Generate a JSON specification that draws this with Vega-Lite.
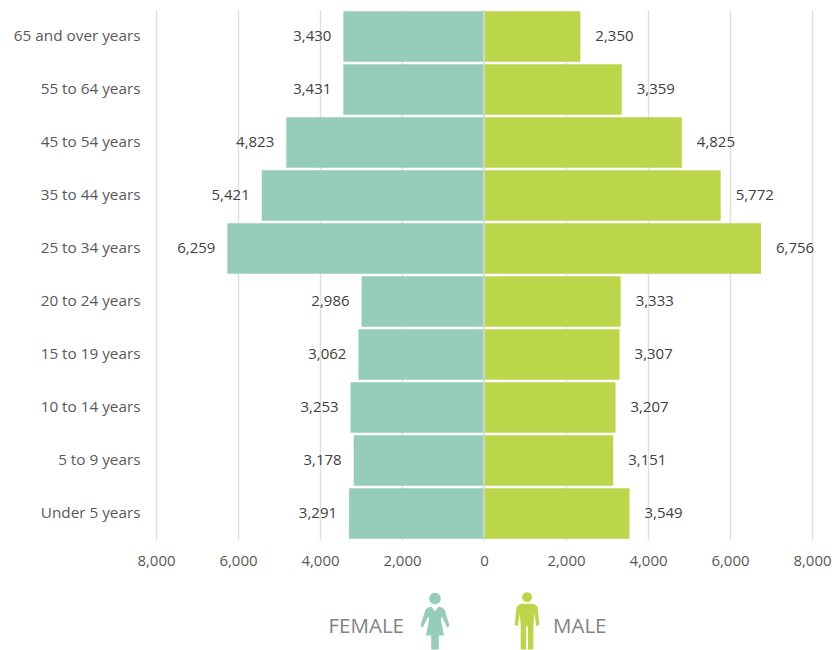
{
"$schema":"https://vega.github.io/schema/vega-lite/v6.json",
"width":656,"height":530,"autosize":"none",
"padding":{"left":156,"top":10,"right":28,"bottom":110},
"background":"white",
"config":{"view":{"stroke":null},"font":"Open Sans"},
"data":{"values":[
{"age":"65 and over years","sex":"FEMALE","value":-3430},{"age":"65 and over years","sex":"MALE","value":2350},
{"age":"55 to 64 years","sex":"FEMALE","value":-3431},{"age":"55 to 64 years","sex":"MALE","value":3359},
{"age":"45 to 54 years","sex":"FEMALE","value":-4823},{"age":"45 to 54 years","sex":"MALE","value":4825},
{"age":"35 to 44 years","sex":"FEMALE","value":-5421},{"age":"35 to 44 years","sex":"MALE","value":5772},
{"age":"25 to 34 years","sex":"FEMALE","value":-6259},{"age":"25 to 34 years","sex":"MALE","value":6756},
{"age":"20 to 24 years","sex":"FEMALE","value":-2986},{"age":"20 to 24 years","sex":"MALE","value":3333},
{"age":"15 to 19 years","sex":"FEMALE","value":-3062},{"age":"15 to 19 years","sex":"MALE","value":3307},
{"age":"10 to 14 years","sex":"FEMALE","value":-3253},{"age":"10 to 14 years","sex":"MALE","value":3207},
{"age":"5 to 9 years","sex":"FEMALE","value":-3178},{"age":"5 to 9 years","sex":"MALE","value":3151},
{"age":"Under 5 years","sex":"FEMALE","value":-3291},{"age":"Under 5 years","sex":"MALE","value":3549}
]},
"encoding":{
"y":{"field":"age","type":"nominal","title":null,
"sort":["65 and over years","55 to 64 years","45 to 54 years","35 to 44 years","25 to 34 years","20 to 24 years","15 to 19 years","10 to 14 years","5 to 9 years","Under 5 years"],
"scale":{"paddingInner":0.05,"paddingOuter":0.025},
"axis":{"domain":false,"ticks":false,"grid":false,"labelPadding":16,"labelOffset":-1,"labelFontSize":15.3,"labelColor":"#58595b","labelFont":"Open Sans"}}
},
"layer":[
{"mark":{"type":"bar"},
"encoding":{
"x":{"field":"value","type":"quantitative","title":null,
"scale":{"domain":[-8000,8000],"nice":false},
"axis":{"values":[-8000,-6000,-4000,-2000,0,2000,4000,6000,8000],"labelExpr":"format(abs(datum.value),',')","labelFlush":false,"domain":false,"ticks":false,"grid":true,"gridColor":"#e0e0e0","gridWidth":1.5,"labelPadding":13,"labelFontSize":15,"labelColor":"#58595b","labelFont":"Open Sans"}},
"color":{"field":"sex","type":"nominal","legend":null,"scale":{"domain":["FEMALE","MALE"],"range":["#96cdb8","#bcd64b"]}}
}},
{"data":{"values":[{"value":0}]},"mark":{"type":"rule","color":"#d9d9d9","strokeWidth":1.5},
"encoding":{"x":{"field":"value","type":"quantitative"},"y":null}},
{"transform":[{"filter":"datum.sex==='FEMALE'"},{"calculate":"format(abs(datum.value),',')","as":"label"}],
"mark":{"type":"text","align":"right","baseline":"middle","dx":-12,"dy":-1,"fontSize":15,"color":"#414042"},
"encoding":{"x":{"field":"value","type":"quantitative"},"text":{"field":"label"}}},
{"transform":[{"filter":"datum.sex==='MALE'"},{"calculate":"format(abs(datum.value),',')","as":"label"}],
"mark":{"type":"text","align":"left","baseline":"middle","dx":15,"dy":-1,"fontSize":15,"color":"#414042"},
"encoding":{"x":{"field":"value","type":"quantitative"},"text":{"field":"label"}}},
{"data":{"values":[{"sex":"FEMALE"}]},"mark":{"type":"text","align":"right","baseline":"middle","yOffset":113,"fontSize":20.5,"color":"#808285"},
"encoding":{"x":{"datum":-1951},"y":{"datum":"Under 5 years"},"text":{"field":"sex"}}},
{"data":{"values":[{"sex":"MALE"}]},"mark":{"type":"text","align":"left","baseline":"middle","yOffset":113,"fontSize":20.5,"color":"#808285"},
"encoding":{"x":{"datum":1683},"y":{"datum":"Under 5 years"},"text":{"field":"sex"}}},
{"data":{"values":[{"sex":"FEMALE"}]},"mark":{"type":"point","filled":true,"opacity":1,"strokeWidth":0,"yOffset":107,"size":3364,"color":"#96cdb8",
"shape":"M-0.2 -0.76A0.2 0.2 0 1 1 0.2 -0.76A0.2 0.2 0 1 1 -0.2 -0.76Z M0 -0.32L0.13 -0.48L0.25 -0.44L0.33 -0.38L0.5 0.18L0.42 0.25L0.24 -0.14L0.2 -0.05L0.31 0.52L0.13 0.52L0.13 1L-0.13 1L-0.13 0.52L-0.31 0.52L-0.2 -0.05L-0.24 -0.14L-0.42 0.25L-0.5 0.18L-0.33 -0.38L-0.25 -0.44L-0.13 -0.48Z"},
"encoding":{"x":{"datum":-1195},"y":{"datum":"Under 5 years"}}},
{"data":{"values":[{"sex":"MALE"}]},"mark":{"type":"point","filled":true,"opacity":1,"strokeWidth":0,"yOffset":107,"size":3364,"color":"#bcd64b",
"shape":"M-0.17 -0.8A0.17 0.17 0 1 1 0.17 -0.8A0.17 0.17 0 1 1 -0.17 -0.8Z M-0.22 -0.58L0.22 -0.58L0.36 -0.48L0.43 0.15L0.32 0.2L0.25 -0.25L0.22 0.2L0.22 1L0.03 1L0.03 0.2L-0.03 0.2L-0.03 1L-0.22 1L-0.22 0.2L-0.25 -0.25L-0.32 0.2L-0.43 0.15L-0.36 -0.48Z"},
"encoding":{"x":{"datum":1050},"y":{"datum":"Under 5 years"}}}
]
}
